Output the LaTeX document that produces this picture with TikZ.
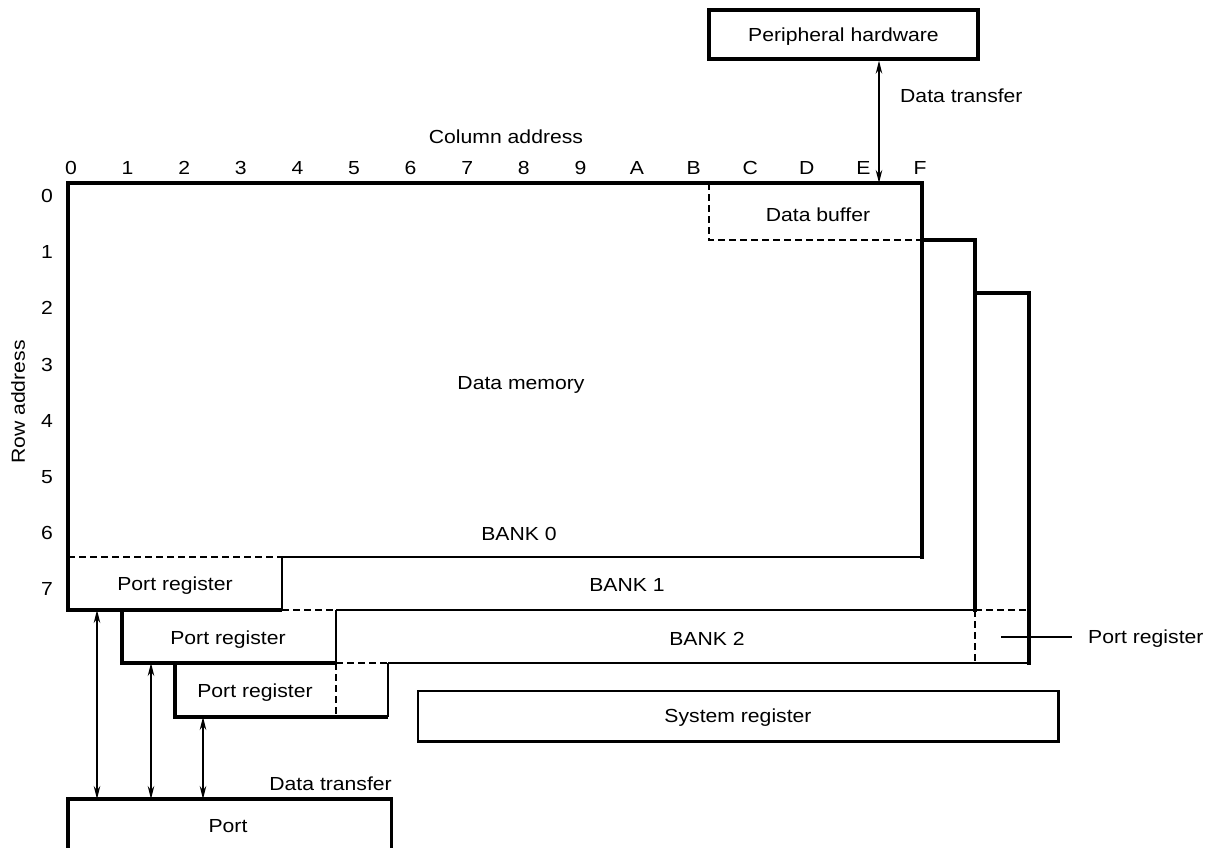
\documentclass[tikz,border=0pt]{standalone}
\usepackage{fontspec}
\setmainfont{Liberation Sans}[FakeStretch=1.12]
\usetikzlibrary{arrows.meta}
\begin{document}
\begin{tikzpicture}[x=1pt,y=-1pt,
  thick line/.style={line width=3.4pt, line join=miter},
  thin line/.style={line width=1.2pt},
  dash line/.style={line width=1.2pt, dash pattern=on 7pt off 4pt},
  lbl/.style={inner sep=0pt, text height=13.5pt, text depth=0pt, font=\fontsize{18.9}{22}\selectfont},
  arr/.style={line width=1.2pt, {Stealth[length=13pt,width=6.5pt]}-{Stealth[length=13pt,width=6.5pt]}},
]
\useasboundingbox (0,0) rectangle (1213,847);

% ---- Bank 0 ----
\draw[thick line] (282,610) -- (68,610) -- (68,183) -- (922,183) -- (922,558.7);
\draw[thin line] (282,557) -- (922,557);
\draw[thin line] (282,557) -- (282,610);
\draw[dash line] (68,557) -- (282,557);
\draw[dash line] (709,183) -- (709,240) -- (922,240);

% ---- Bank 1 ----
\draw[thick line] (336,663) -- (122,663) -- (122,610);
\draw[thick line] (922,240) -- (975,240) -- (975,611.7);
\draw[thin line] (336,610) -- (975,610);
\draw[thin line] (336,610) -- (336,663);
\draw[dash line] (282,610) -- (336,610);

% ---- Bank 2 ----
\draw[thick line] (388,717) -- (175,717) -- (175,663);
\draw[thick line] (975,293) -- (1029,293) -- (1029,664.7);
\draw[thin line] (388,663) -- (1029,663);
\draw[thin line] (388,663) -- (388,717);
\draw[dash line] (336,663) -- (388,663);
\draw[dash line] (336,663) -- (336,717);
\draw[dash line] (975,610) -- (1029,610);
\draw[dash line] (975,610) -- (975,663);

% ---- labels inside banks ----
\node[lbl] (colhead) at (506,137) {Column address};
\foreach \c [count=\i from 0] in {0,1,2,3,4,5,6,7,8,9,A,B,C,D,E,F}
  \node[lbl] (col\i) at (71+56.6*\i,168) {\c};
\foreach \r in {0,...,7}
  \node[lbl] (row\r) at (47,196+56.1*\r) {\r};
\node[lbl, rotate=90] (rowhead) at (18,402) {Row address};

\node[lbl] (dmem) at (521,383) {Data memory};
\node[lbl] (bank0) at (519,534) {BANK 0};
\node[lbl] (bank1) at (627,585) {BANK 1};
\node[lbl] (bank2) at (707,639) {BANK 2};
\node[lbl] (dbuf) at (818,215) {Data buffer};
\node[lbl] (pr0) at (175,584) {Port register};
\node[lbl] (pr1) at (228,638) {Port register};
\node[lbl] (pr2) at (255,691) {Port register};

% right port register pointer
\coordinate (prrpt) at (1001,637);
\node[lbl, anchor=west] (prr) at (1088,637) {Port register};
\draw[thin line] (prrpt) -- ([xshift=-16pt]prr.west);

% ---- peripheral hardware ----
\node[lbl, draw, thick line, minimum width=269pt, minimum height=49pt] (ph) at (843.5,34.5) {Peripheral hardware};
\coordinate (dbin) at (879,183);
\draw[arr] (ph.south -| dbin) -- (dbin);
\node[lbl, anchor=west] (dt1) at (900,96) {Data transfer};

% ---- system register ----
\node[lbl, draw, thin line, minimum width=640pt, minimum height=50pt] (sys) at (738,716) {System register};
\draw[thick line] (sys.south west) -- (sys.south east) -- (sys.north east);

% ---- port ----
\node[inner sep=0pt, minimum width=323pt, minimum height=60pt, anchor=north west] (port) at (68,799) {};
\draw[thick line] (port.south west) -- (port.north west) -- (port.north east) -- (port.south east);
\node[lbl] (porttxt) at (228,826) {Port};
\node[lbl, anchor=east] (dt2) at (392,784) {Data transfer};

\coordinate (a0) at (97,610);
\coordinate (a1) at (151,663);
\coordinate (a2) at (203,717);
\draw[arr] (a0) -- (a0 |- port.north);
\draw[arr] (a1) -- (a1 |- port.north);
\draw[arr] (a2) -- (a2 |- port.north);
\end{tikzpicture}
\end{document}
